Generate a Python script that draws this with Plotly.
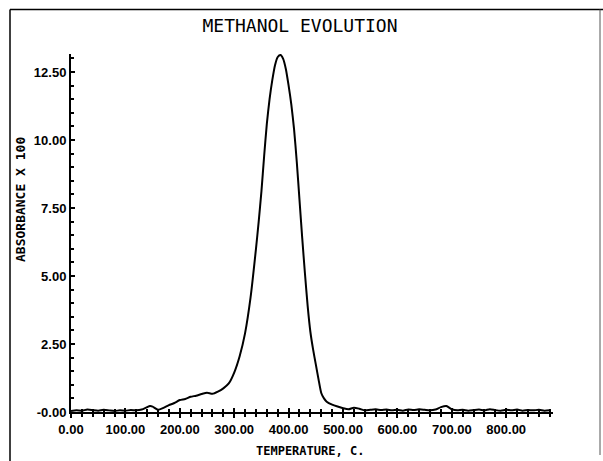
import plotly.graph_objects as go

# ---- data ----
temperature = [0, 10, 20, 30, 40, 50, 60, 70, 80, 90, 100, 110, 120, 130, 140, 145, 150, 160,
               170, 180, 190, 200, 210, 220, 230, 240, 250, 260, 270, 280, 290, 300, 310, 320,
               330, 340, 345, 350, 355, 360, 365, 370, 375, 380, 385, 390, 395, 400, 405, 410,
               415, 420, 425, 430, 435, 440, 445, 450, 455, 460, 465, 470, 480, 490, 500, 510,
               520, 530, 540, 550, 560, 570, 580, 590, 600, 610, 620, 630, 640, 650, 660, 670,
               680, 690, 700, 710, 720, 730, 740, 750, 760, 770, 780, 790, 800, 810, 820, 830,
               840, 850, 860, 870, 880]
absorbance = [0.04, 0.06, 0.05, 0.09, 0.07, 0.05, 0.08, 0.06, 0.04, 0.06, 0.05, 0.07, 0.06, 0.09,
              0.18, 0.22, 0.20, 0.08, 0.15, 0.25, 0.33, 0.44, 0.48, 0.56, 0.60, 0.66, 0.71, 0.67,
              0.75, 0.87, 1.05, 1.45, 2.05, 2.90, 4.20, 6.00, 7.00, 8.10, 9.40, 10.60, 11.50,
              12.20, 12.75, 13.05, 13.12, 12.98, 12.60, 12.00, 11.30, 10.40, 9.20, 7.80, 6.40,
              5.10, 3.90, 2.95, 2.30, 1.75, 1.20, 0.70, 0.50, 0.38, 0.27, 0.20, 0.14, 0.10,
              0.16, 0.12, 0.06, 0.08, 0.10, 0.07, 0.09, 0.06, 0.08, 0.05, 0.09, 0.07, 0.10,
              0.08, 0.06, 0.09, 0.18, 0.22, 0.10, 0.06, 0.08, 0.05, 0.07, 0.09, 0.06, 0.10,
              0.07, 0.05, 0.08, 0.06, 0.09, 0.05, 0.07, 0.06, 0.08, 0.05, 0.06]

x_tickvals = [0, 100, 200, 300, 400, 500, 600, 700, 800]
x_ticktext = ["0.00", "100.00", "200.00", "300.00", "400.00", "500.00", "600.00", "700.00", "800.00"]
y_tickvals = [0, 2.5, 5, 7.5, 10, 12.5]
y_ticktext = ["-0.00", "2.50", "5.00", "7.50", "10.00", "12.50"]

title_text = "METHANOL EVOLUTION"
x_title = "TEMPERATURE, C."
y_title = "ABSORBANCE X 100"

W, H = 603, 461
L, R, T, B = 71, 50, 54, 49
X_RANGE = [0, 886]
Y_RANGE = [0, 13.16]

FONT_MONO = "DejaVu Sans Mono, Liberation Mono, monospace"
FONT_TICK = "Liberation Sans, Arial, sans-serif"


def px_to_paper_x(px):
    return (px - L) / (W - L - R)


def px_to_paper_y(py):
    return (H - B - py) / (H - T - B)


fig = go.Figure()
fig.add_trace(go.Scatter(x=temperature, y=absorbance, mode="lines",
                         line=dict(color="black", width=2, shape="spline", smoothing=0.6),
                         showlegend=False, hoverinfo="skip"))
# empty trace to activate overlay axes (used for crossing tick marks)
fig.add_trace(go.Scatter(x=[], y=[], xaxis="x2", yaxis="y2", showlegend=False))

axis_common = dict(showgrid=False, zeroline=False, color="black", tickcolor="black")
tick_font = dict(family=FONT_TICK, size=13, color="black", weight="bold")

fig.update_layout(
    width=W, height=H,
    margin=dict(l=L, r=R, t=T, b=B, pad=0),
    paper_bgcolor="white", plot_bgcolor="white",
    showlegend=False,
    title=dict(text=title_text, x=300 / W, xanchor="center", y=1 - 26 / H, yanchor="middle",
               font=dict(family=FONT_MONO, size=18, color="black")),
    xaxis=dict(range=X_RANGE, tickmode="array", tickvals=x_tickvals, ticktext=x_ticktext,
               ticks="outside", ticklen=4, tickwidth=1.5,
               minor=dict(dtick=20, tick0=0, ticks="outside", ticklen=3, tickwidth=1.5,
                          tickcolor="black"),
               showline=True, linecolor="black", linewidth=2,
               tickfont=tick_font, fixedrange=True, **axis_common),
    yaxis=dict(range=Y_RANGE, tickmode="array", tickvals=y_tickvals, ticktext=y_ticktext,
               ticks="inside", ticklen=4, tickwidth=1.5,
               minor=dict(dtick=0.5, tick0=0, ticks="inside", ticklen=3, tickwidth=1.5,
                          tickcolor="black"),
               showline=True, linecolor="black", linewidth=2,
               tickfont=tick_font, fixedrange=True, **axis_common),
    xaxis2=dict(range=X_RANGE, overlaying="x", anchor="y", side="bottom",
                tickmode="array", tickvals=x_tickvals, ticks="inside", ticklen=4, tickwidth=1.5,
                minor=dict(dtick=20, tick0=0, ticks="inside", ticklen=3, tickwidth=1.5,
                           tickcolor="black"),
                showticklabels=False, showline=False, fixedrange=True, **axis_common),
    yaxis2=dict(range=Y_RANGE, overlaying="y", anchor="x", side="left",
                showticklabels=False, showline=False, ticks="", fixedrange=True, **axis_common),
)

# axis titles as annotations
fig.add_annotation(text=x_title, xref="paper", yref="paper",
                   x=px_to_paper_x(310), y=px_to_paper_y(451),
                   xanchor="center", yanchor="middle", showarrow=False,
                   font=dict(family=FONT_MONO, size=12, color="black", weight="bold"))
fig.add_annotation(text=y_title, xref="paper", yref="paper", textangle=-90,
                   x=px_to_paper_x(21), y=px_to_paper_y(200),
                   xanchor="center", yanchor="middle", showarrow=False,
                   font=dict(family=FONT_MONO, size=13, color="black", weight="bold"))

# outer frame of the scanned page
frame = dict(type="line", xref="paper", yref="paper", line=dict(color="black", width=1.5))
fig.add_shape(**frame, x0=px_to_paper_x(10), x1=px_to_paper_x(603), y0=px_to_paper_y(9.5), y1=px_to_paper_y(9.5))
fig.add_shape(**frame, x0=px_to_paper_x(10), x1=px_to_paper_x(10), y0=px_to_paper_y(9.5), y1=px_to_paper_y(461))
fig.add_shape(type="line", xref="paper", yref="paper", line=dict(color="#555555", width=1),
              x0=px_to_paper_x(600), x1=px_to_paper_x(600), y0=px_to_paper_y(9.5), y1=px_to_paper_y(455))

fig.write_html("out.html")
